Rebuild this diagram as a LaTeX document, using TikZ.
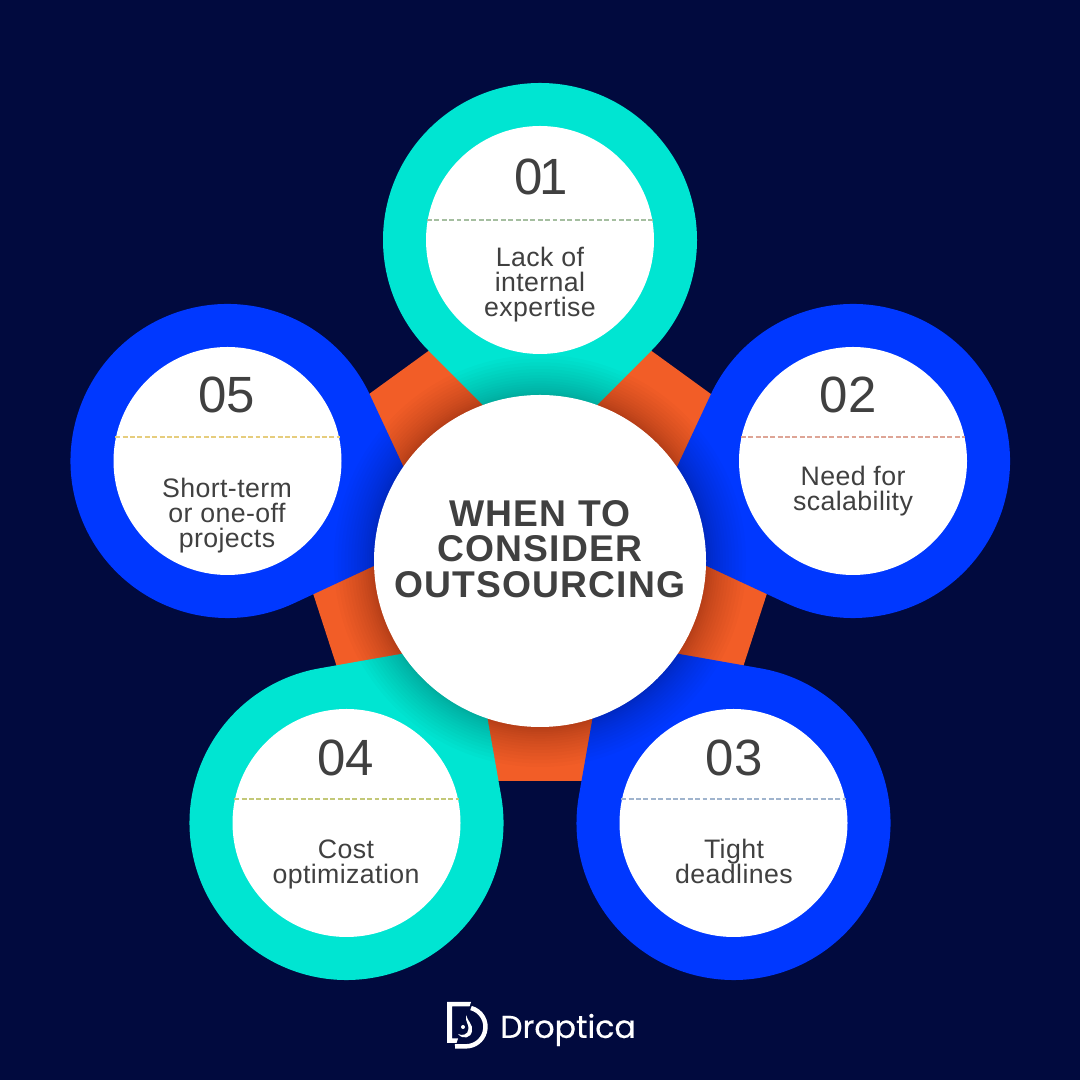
\documentclass[tikz,border=0pt]{standalone}
\usepackage{fontspec}
\setmainfont[LetterSpace=1.5]{Liberation Sans}
\newfontfamily\numfont{Liberation Sans}
\newfontfamily\titlefont[LetterSpace=3]{Liberation Sans}
\newfontfamily\logofont[FakeBold=0.4]{Poppins}
\definecolor{dpnavy}{RGB}{1,10,62}
\definecolor{dporange}{RGB}{242,93,39}
\definecolor{dpteal}{RGB}{0,229,210}
\definecolor{dpblue}{RGB}{0,56,255}
\definecolor{dptext}{RGB}{64,64,64}
\definecolor{dashA}{RGB}{165,190,160}
\definecolor{dashB}{RGB}{222,165,150}
\definecolor{dashC}{RGB}{160,180,205}
\definecolor{dashD}{RGB}{195,200,120}
\definecolor{dashE}{RGB}{230,205,125}
\tikzset{
    card/.style={circle, fill=white, minimum size=2.28cm, inner sep=0pt},
    hub/.style={circle, fill=white, minimum size=3.32cm, inner sep=0pt},
    numtext/.style={text=dptext, font=\numfont\fontsize{14.5}{14.5}\selectfont},
    itemtext/.style={text=dptext, align=center, font=\fontsize{7.6}{7.1}\selectfont},
    chord/.style={dash pattern=on 1.4pt off 0.7pt, line width=0.43pt},
}
% petal: centre x, centre y, direction of the tip, colour
\newcommand{\petal}[4]{
    \fill[#4] (#1,#2) ++(#3+45:1.57) arc[start angle=#3+45, end angle=#3+315, radius=1.57] -- ++(#3+45:1.57) -- cycle;
}
\begin{document}
\begin{tikzpicture}
    \useasboundingbox (0,0) rectangle (10.8,10.8);
    \fill[dpnavy] (0,0) rectangle (10.8,10.8);

    % Pentagon behind the petals
    \fill[dporange] (5.4,8.10) -- (8.087,6.15) -- (7.06,2.99) -- (3.74,2.99) -- (2.713,6.15) -- cycle;

    % Petals
    \petal{5.4}{8.4}{-90}{dpteal}
    \petal{8.53}{6.19}{200}{dpblue}
    \petal{7.335}{2.57}{125}{dpblue}
    \petal{3.465}{2.57}{55}{dpteal}
    \petal{2.275}{6.19}{-20}{dpblue}

    % Shadow of the centre circle
    \foreach \i in {1,...,16} {
        \fill[black, opacity=0.015] (5.4,5.19) circle[radius={1.66+0.4*pow(\i/16,1.5)}];
    }

    % Centre
    \node[hub] (hub) at (5.4,5.19) {};
    \node[align=center, text=dptext, font=\titlefont\bfseries\fontsize{10.6}{10.1}\selectfont] (title) at (5.4,5.31) {WHEN TO\\CONSIDER\\OUTSOURCING};

    % Cards
    \foreach \n/\x/\y in {1/5.4/8.4, 2/8.53/6.19, 3/7.335/2.57, 4/3.465/2.57, 5/2.275/6.19} {
        \node[card] (c\n) at (\x,\y) {};
    }
    \foreach \n/\col/\a/\b in {1/dashA/170/10, 2/dashB/168/12, 3/dashC/168/12, 4/dashD/168/12, 5/dashE/168/12} {
        \draw[chord, \col] (c\n.\a) -- (c\n.\b);
    }

    \node[numtext] (n1) at (5.41,9.03) {0\kern-0.8pt 1};
    \node[numtext] (n2) at (8.48,6.85) {02};
    \node[numtext] (n3) at (7.34,3.22) {03};
    \node[numtext] (n4) at (3.46,3.22) {04};
    \node[numtext] (n5) at (2.27,6.85) {05};

    \node[itemtext] (t1) at (5.4,7.95) {Lack of\\internal\\expertise};
    \node[itemtext] (t2) at (8.53,5.89) {Need for\\scalability};
    \node[itemtext] (t3) at (7.34,2.19) {Tight\\deadlines};
    \node[itemtext] (t4) at (3.46,2.16) {Cost\\optimization};
    \node[itemtext] (t5) at (2.27,5.64) {Short-term\\or one-off\\projects};

    % Logo
    \fill[white] (4.47,0.78) -- (4.71,0.78) -- (4.695,0.735) -- (4.52,0.735) -- (4.52,0.415) -- (4.58,0.415) -- (4.565,0.37) -- (4.47,0.37) -- cycle;
    \draw[white, line width=1.28pt] (4.71,0.72) arc[start angle=75, end angle=-90, radius=0.195] -- (4.55,0.335);
    \fill[white] (4.66,0.65) .. controls (4.68,0.58) and (4.73,0.56) .. (4.72,0.49) .. controls (4.71,0.42) and (4.63,0.40) .. (4.58,0.46) .. controls (4.62,0.44) and (4.68,0.45) .. (4.685,0.51) .. controls (4.69,0.56) and (4.65,0.58) .. cycle;
    \fill[white] (4.63,0.53) circle[radius=0.02];
    \node[text=white, anchor=west, inner sep=0pt, font=\logofont\fontsize{9}{9}\selectfont] (logo) at (4.995,0.50) {Droptica};
\end{tikzpicture}
\end{document}
